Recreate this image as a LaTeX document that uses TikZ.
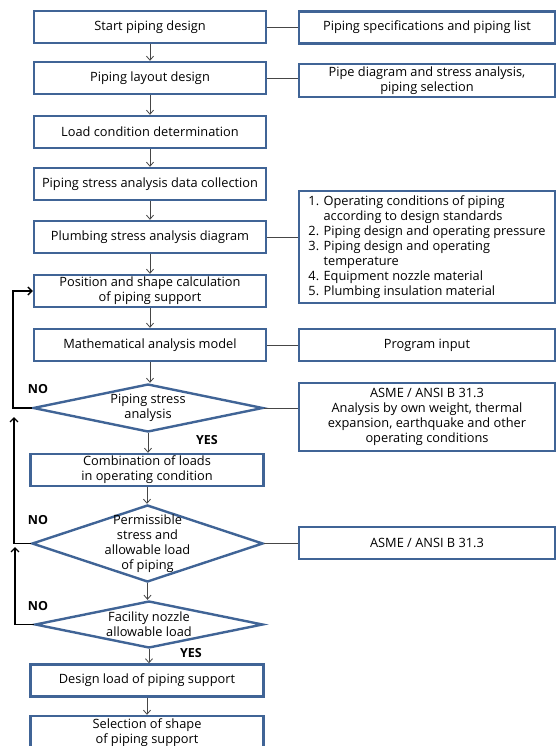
\documentclass[tikz,border=0pt]{standalone}
\usepackage{fontspec}
\setmainfont{Open Sans}
\usepackage{tikz}
\usetikzlibrary{shapes,arrows.meta,positioning}
\definecolor{boxblue}{RGB}{64,100,150}
\definecolor{linegray}{RGB}{70,70,70}
\tikzstyle{block} = [rectangle, draw=boxblue, line width=2.4pt, minimum width=232pt, minimum height=32pt, inner sep=1pt, align=center, font=\fontsize{12.8}{15}\selectfont]
\tikzstyle{side} = [block, minimum width=256pt]
\tikzstyle{decision} = [diamond, draw=boxblue, line width=2.4pt, inner sep=0pt]
\tikzstyle{dtext} = [inner sep=0pt, align=center, font=\fontsize{12.8}{15}\selectfont]
\tikzstyle{answer} = [font=\fontsize{12.5}{14}\selectfont\bfseries]
\tikzstyle{line} = [draw, linegray, line width=0.8pt]
\tikzstyle{arrow} = [line, -{Straight Barb[length=4pt,width=7pt]}]
\tikzstyle{back} = [draw, black, line width=1.4pt, -{Straight Barb[length=4pt,width=8pt]}]

\begin{document}
\begin{tikzpicture}[x=1pt, y=-1pt]
				\useasboundingbox (0,0) rectangle (558,746);
				% main column
				\node [block] (start) at (150, 27) {Start piping design};
				\node [block] (layout) at (150, 78) {Piping layout design};
				\node [block] (load) at (150, 132) {Load condition determination};
				\node [block] (data) at (150, 184) {Piping stress analysis data collection};
				\node [block] (plumb) at (150, 237) {Plumbing stress analysis diagram};
				\node [block] (position) at (150, 291) {Position and shape calculation\\of piping support};
				\node [block] (model) at (150, 345) {Mathematical analysis model};
				\node [decision, minimum width=230pt, minimum height=48pt] (stress) at (148, 408) {};
				\node [dtext] at (stress) {Piping stress\\analysis};
				\node [block, minimum width=233pt] (combo) at (147, 470) {Combination of loads\\in operating condition};
				\node [decision, minimum width=231pt, minimum height=77pt] (permit) at (147.5, 543.5) {};
				\node [dtext] at (permit) {Permissible\\stress and\\allowable load\\of piping};
				\node [decision, minimum width=228pt, minimum height=47pt] (nozzle) at (149, 624.5) {};
				\node [dtext] at (nozzle) {Facility nozzle\\allowable load};
				\node [block, minimum width=233pt] (design) at (147, 680.5) {Design load of piping support};
				\node [block, minimum width=233pt, minimum height=34pt] (select) at (147, 733) {Selection of shape\\of piping support};

				% side boxes
				\node [side] (spec) at (427, 27.5) {Piping specifications and piping list};
				\node [side, minimum height=33pt] (diagram) at (427, 80.5) {Pipe diagram and stress analysis,\\piping selection};
				\node [side, minimum height=112pt, align=left] (items) at (427, 247) {1. Operating conditions of piping\\
					\phantom{1. }according to design standards\\
					2. Piping design and operating pressure\\
					3. Piping design and operating\\
					\phantom{3. }temperature\\
					4. Equipment nozzle material\\
					5. Plumbing insulation material};
				\node [side] (program) at (427, 345) {Program input};
				\node [side, minimum height=68pt] (asme) at (427, 417) {ASME / ANSI B 31.3\\Analysis by own weight, thermal\\expansion, earthquake and other\\operating conditions};
				\node [side] (asmeb) at (427, 543) {ASME / ANSI B 31.3};

				% answers
				\node [answer] (no1) at (38, 389) {NO};
				\node [answer] (no2) at (38, 520) {NO};
				\node [answer] (no3) at (38, 606) {NO};
				\node [answer] (yes1) at (207, 440) {YES};
				\node [answer] (yes2) at (191, 653) {YES};

				% loop corners
				\coordinate (c1) at (13, 408);
				\coordinate (c2) at (14, 543.5);
				\coordinate (e2) at (14, 417);
				\coordinate (c3) at (15, 624.5);
				\coordinate (e3) at (15, 547);

				\path [arrow] (start) -- (layout);
				\path [arrow] (layout) -- (load);
				\path [arrow] (load) -- (data);
				\path [arrow] (data) -- (plumb);
				\path [arrow] (plumb) -- (position);
				\path [arrow] (position) -- (model);
				\path [arrow] (model.south) -- (model.south |- stress.north);
				\path [arrow] (stress.south) -- (stress.south |- combo.north);
				\path [arrow] (combo.south) -- (combo.south |- permit.north);
				\path [arrow] (permit.south) -- (permit.south |- nozzle.north);
				\path [arrow] (nozzle.south) -- (nozzle.south |- design.north);
				\path [arrow] (design) -- (select);

				\path [line] (start.east) -- (start.east -| spec.west);
				\path [line] (layout.east) -- (layout.east -| diagram.west);
				\path [line] (plumb.east) -- (plumb.east -| items.west);
				\path [line] (model.east) -- (model.east -| program.west);
				\path [line] (stress.east) -- (stress.east -| asme.west);
				\path [line] (permit.east) -- (permit.east -| asmeb.west);

				\path [back] (stress.west) -- (c1) |- (position.west);
				\path [back] (permit.west) -- (c2) -- (e2);
				\path [back] (nozzle.west) -- (c3) -- (e3);
			\end{tikzpicture}
\end{document}
